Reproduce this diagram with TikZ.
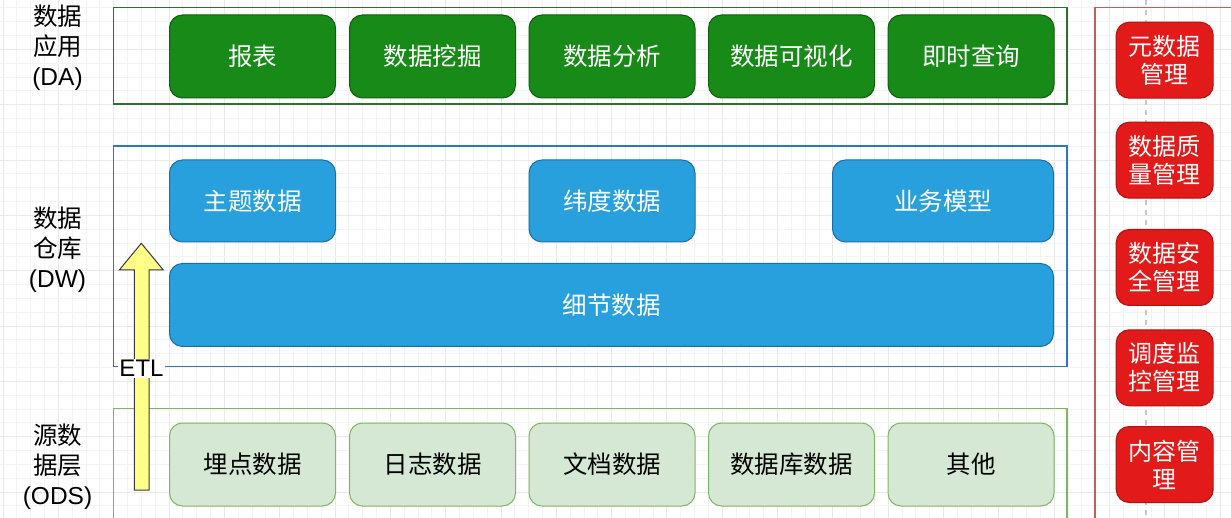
\documentclass[tikz,border=0pt]{standalone}
\usepackage{fontspec}
\setmainfont{Noto Sans CJK SC}
\newfontfamily\lat{Liberation Sans}
\begin{document}
\begin{tikzpicture}[x=1pt,y=-1pt,
  txt/.style={font=\fontsize{24.5}{29}\selectfont},
  basebox/.style={rounded corners=13pt, anchor=north west, inner sep=0pt, line width=1pt, txt, align=center},
  gbox/.style={basebox, fill=dagreen, draw=dagreenb, text=white},
  bbox/.style={basebox, fill=dwblue, draw=dwblueb, text=white},
  obox/.style={basebox, fill=odsfill, draw=odsline, text=black},
  rbox/.style={basebox, fill=mred, draw=mredb, text=white, font=\fontsize{24}{28}\selectfont},
  cont/.style={line width=1.2pt, fill=none},
  lbl/.style={align=center, font=\fontsize{24.5}{30}\selectfont}
]
\definecolor{dagreen}{HTML}{178A17}
\definecolor{dagreenb}{HTML}{0F5E0F}
\definecolor{dacont}{HTML}{2E6E2E}
\definecolor{dwblue}{HTML}{28A0DE}
\definecolor{dwblueb}{HTML}{1A6FA8}
\definecolor{dwcont}{HTML}{2F77BC}
\definecolor{odsfill}{HTML}{D5E8D4}
\definecolor{odsline}{HTML}{82B366}
\definecolor{mred}{HTML}{E21A1A}
\definecolor{mredb}{HTML}{B31010}
\definecolor{mcont}{HTML}{CC5A5A}
\definecolor{gridminor}{HTML}{F3F3F3}
\definecolor{gridmajor}{HTML}{E9E9E9}
\definecolor{etlfill}{HTML}{FFFF88}
\definecolor{etlline}{HTML}{36393D}

\useasboundingbox (0,0) rectangle (1231,518);
\clip (0,0) rectangle (1231,518);
\fill[white] (0,0) rectangle (1231,518);

% grid
\foreach \i in {-13,...,77} {
  \pgfmathsetmacro{\gx}{169+\i*13.83}
  \pgfmathtruncatemacro{\mj}{mod(\i+52,4)}
  \ifnum\mj=0
    \draw[gridmajor, line width=0.8pt] (\gx,0) -- (\gx,518);
  \else
    \draw[gridminor, line width=0.8pt] (\gx,0) -- (\gx,518);
  \fi
}
\foreach \i in {-12,...,26} {
  \pgfmathsetmacro{\gy}{160+\i*13.83}
  \pgfmathtruncatemacro{\mj}{mod(\i+48,4)}
  \ifnum\mj=0
    \draw[gridmajor, line width=0.8pt] (0,\gy) -- (1231,\gy);
  \else
    \draw[gridminor, line width=0.8pt] (0,\gy) -- (1231,\gy);
  \fi
}

% page-break style dashed line
\coordinate (pbtop) at (1146,0);
\coordinate (pbbot) at (1146,518);
\draw[black!22, line width=1.5pt, dash pattern=on 5pt off 5pt] (pbtop) -- (pbbot);

% containers
\draw[cont, draw=dacont] (113.3,7.5) rectangle (1067,104);
\draw[cont, draw=dwcont] (113.3,146) rectangle (1067,366.7);
\draw[cont, draw=odsline] (113.3,408.5) rectangle (1067,540);
\draw[cont, draw=mcont] (1095,7.5) rectangle (1250,540);

% left labels
\node[lbl] (lda) at (57.5,48) {数据\\应用\\{\lat (DA)}};
\node[lbl] (ldw) at (57.5,250) {数据\\仓库\\{\lat (DW)}};
\node[lbl] (lods) at (57.5,467) {源数\\据层\\{\lat (ODS)}};

% DA boxes
\node[gbox, minimum width=166pt, minimum height=83pt] (da1) at (169,14.5) {报表};
\node[gbox, minimum width=166pt, minimum height=83pt] (da2) at (349,14.5) {数据挖掘};
\node[gbox, minimum width=166pt, minimum height=83pt] (da3) at (528.5,14.5) {数据分析};
\node[gbox, minimum width=166pt, minimum height=83pt] (da4) at (708,14.5) {数据可视化};
\node[gbox, minimum width=166pt, minimum height=83pt] (da5) at (887.5,14.5) {即时查询};

% DW boxes
\node[bbox, minimum width=166pt, minimum height=82pt] (dw1) at (169,159.5) {主题数据};
\node[bbox, minimum width=166pt, minimum height=82pt] (dw2) at (528.5,159.5) {纬度数据};
\node[bbox, minimum width=221pt, minimum height=82pt] (dw3) at (832,159.5) {业务模型};
\node[bbox, minimum width=884pt, minimum height=83pt] (dw4) at (169,263) {细节数据};

% ODS boxes
\node[obox, minimum width=166pt, minimum height=83pt] (o1) at (169,422.5) {埋点数据};
\node[obox, minimum width=166pt, minimum height=83pt] (o2) at (349,422.5) {日志数据};
\node[obox, minimum width=166pt, minimum height=83pt] (o3) at (528.5,422.5) {文档数据};
\node[obox, minimum width=166pt, minimum height=83pt] (o4) at (708,422.5) {数据库数据};
\node[obox, minimum width=166pt, minimum height=83pt] (o5) at (887.5,422.5) {其他};

% management boxes
\node[rbox, minimum width=97pt, minimum height=76pt] (m1) at (1115.7,21.7) {元数据\\管理};
\node[rbox, minimum width=97pt, minimum height=76pt] (m2) at (1115.7,121.7) {数据质\\量管理};
\node[rbox, minimum width=97pt, minimum height=76pt] (m3) at (1115.7,229) {数据安\\全管理};
\node[rbox, minimum width=97pt, minimum height=76pt] (m4) at (1115.7,329.3) {调度监\\控管理};
\node[rbox, minimum width=97pt, minimum height=76pt] (m5) at (1115.7,426) {内容管\\理};

% ETL arrow
\coordinate (etlbot) at (141.6,490);
\coordinate (etltip) at (141.3,243.3);
\filldraw[fill=etlfill, draw=etlline, line width=1pt, line join=miter]
  (134.3,490) -- (134.3,270) -- (119.3,270) -- (etltip) -- (163.3,270) -- (149,270) -- (149,490) -- cycle;
\node[fill=white, inner sep=1pt, font=\lat\fontsize{24}{24}\selectfont] (etl) at (141.5,368.5) {ETL};
\end{tikzpicture}
\end{document}
